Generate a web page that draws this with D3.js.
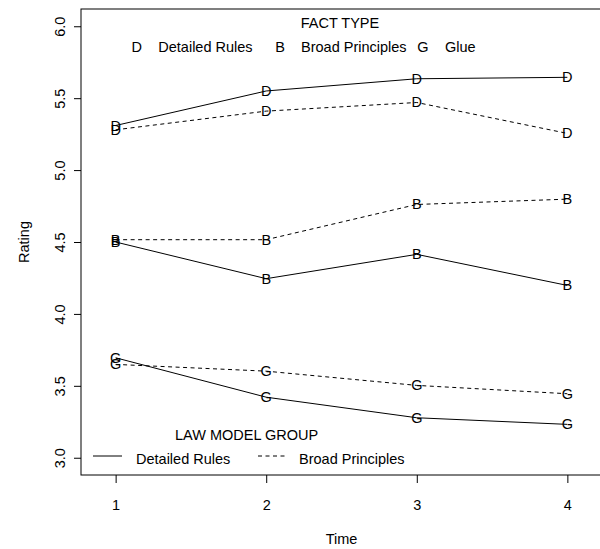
<!DOCTYPE html>
<html>
<head>
<meta charset="utf-8">
<script src="https://cdn.jsdelivr.net/npm/d3@7"></script>
<style>
  body { margin: 0; background: #fff; }
  svg { display: block; }
  text { font-family: "Liberation Sans", Arial, sans-serif; font-size: 14.5px; fill: #000; }
</style>
</head>
<body>
<svg id="chart" width="600" height="549"></svg>
<script>
// ---- data ----
const times = [1, 2, 3, 4];
const xTicks = [1, 2, 3, 4];
const yTicks = [3.0, 3.5, 4.0, 4.5, 5.0, 5.5, 6.0];
const factTypes = ["D", "B", "G"];
const factNames = ["Detailed Rules", "Broad Principles", "Glue"];
const groupNames = ["Detailed Rules", "Broad Principles"];
// series: fact type x law model group
const detailedRules_D = [5.31, 5.55, 5.635, 5.645];
const broadPrinciples_D = [5.28, 5.41, 5.47, 5.255];
const detailedRules_B = [4.50, 4.245, 4.414, 4.198];
const broadPrinciples_B = [4.516, 4.516, 4.761, 4.798];
const detailedRules_G = [3.695, 3.421, 3.278, 3.232];
const broadPrinciples_G = [3.649, 3.602, 3.503, 3.445];

const series = [
  { letter: "D", group: 0, values: detailedRules_D },
  { letter: "D", group: 1, values: broadPrinciples_D },
  { letter: "B", group: 0, values: detailedRules_B },
  { letter: "B", group: 1, values: broadPrinciples_B },
  { letter: "G", group: 0, values: detailedRules_G },
  { letter: "G", group: 1, values: broadPrinciples_G }
];

const dashes = ["none", "4,3.5"];

// ---- layout ----
const svg = d3.select("#chart");
const pLeft = 81, pRight = 602, pTop = 9, pBottom = 475;
const fs = "14.5px";

const x = d3.scaleLinear().domain([0.77, 4.23]).range([pLeft, pRight]);
const y = d3.scaleLinear().domain([2.88, 6.12]).range([pBottom, pTop]);

// box
svg.append("rect")
  .attr("x", pLeft).attr("y", pTop)
  .attr("width", pRight - pLeft).attr("height", pBottom - pTop)
  .attr("fill", "none").attr("stroke", "#000").attr("stroke-width", 1);

// y axis
const yAxis = svg.append("g")
  .attr("transform", `translate(${pLeft},0)`)
  .call(d3.axisLeft(y).tickValues(yTicks).tickSize(7).tickSizeOuter(0).tickFormat(d3.format(".1f")));
yAxis.select(".domain").remove();
yAxis.selectAll("line").attr("stroke", "#000");
yAxis.selectAll("text")
  .attr("x", null).attr("dy", null)
  .attr("text-anchor", "middle")
  .attr("transform", "translate(-16,0) rotate(-90)")
  .style("font-size", fs)
  .style("font-family", "'Liberation Sans', Arial, sans-serif")
  .attr("fill", "#000");

// x axis
const xAxis = svg.append("g")
  .attr("transform", `translate(0,${pBottom})`)
  .call(d3.axisBottom(x).tickValues(xTicks).tickSize(8).tickSizeOuter(0).tickFormat(d3.format("d")));
xAxis.select(".domain").remove();
xAxis.selectAll("line").attr("stroke", "#000");
xAxis.selectAll("text")
  .attr("y", 35).attr("dy", null)
  .style("font-size", fs)
  .style("font-family", "'Liberation Sans', Arial, sans-serif")
  .attr("fill", "#000");

// axis titles
svg.append("text").attr("x", (pLeft + pRight) / 2).attr("y", 544)
  .attr("text-anchor", "middle").text("Time");
svg.append("text")
  .attr("transform", `translate(29,${(pTop + pBottom) / 2}) rotate(-90)`)
  .attr("text-anchor", "middle").text("Rating");

// lines
const line = d3.line().x((d, i) => x(times[i])).y(d => y(d));
svg.selectAll(".series").data(series).enter().append("path")
  .attr("d", d => line(d.values))
  .attr("fill", "none").attr("stroke", "#000").attr("stroke-width", 1)
  .attr("stroke-dasharray", d => dashes[d.group]);

// letter markers
series.forEach(s => {
  svg.selectAll(null).data(s.values).enter().append("text")
    .attr("x", (d, i) => x(times[i]))
    .attr("y", d => y(d) + 5)
    .attr("text-anchor", "middle")
    .text(s.letter);
});

// top legend: FACT TYPE
svg.append("text").attr("x", 340).attr("y", 28).attr("text-anchor", "middle").text("FACT TYPE");
const letterX = [136.7, 280, 423];
const nameX = [158.3, 301, 445];
factTypes.forEach((f, i) => {
  svg.append("text").attr("x", letterX[i]).attr("y", 52).attr("text-anchor", "middle").text(f);
  svg.append("text").attr("x", nameX[i]).attr("y", 52).text(factNames[i]);
});

// bottom legend: LAW MODEL GROUP
svg.append("text").attr("x", 175).attr("y", 440).text("LAW MODEL GROUP");
const segX = [[93, 122], [258, 286]];
const grpNameX = [136, 299];
groupNames.forEach((g, i) => {
  svg.append("line")
    .attr("x1", segX[i][0]).attr("x2", segX[i][1])
    .attr("y1", 456).attr("y2", 456)
    .attr("stroke", "#000").attr("stroke-width", 1)
    .attr("stroke-dasharray", dashes[i]);
  svg.append("text").attr("x", grpNameX[i]).attr("y", 464).text(g);
});
</script>
</body>
</html>
